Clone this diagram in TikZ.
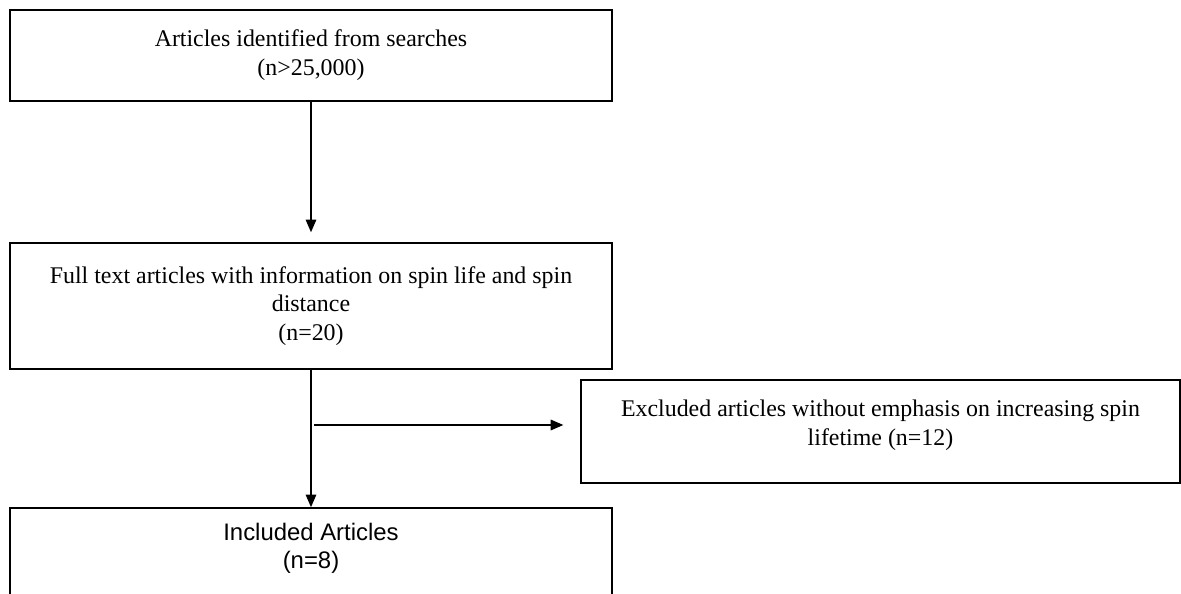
\documentclass[tikz,border=0pt]{standalone}
\usepackage{fontspec}
\setmainfont{Liberation Serif}
\setsansfont{Liberation Sans}
\usetikzlibrary{arrows.meta}

\begin{document}
\begin{tikzpicture}[x=0.02cm, y=-0.02cm, node distance=5.01cm,
    box/.style={draw, thick, align=center, inner sep=0pt, minimum width=12.04cm,
      font=\fontsize{13.6}{16.4}\selectfont},
    >={Triangle[length=7.2pt, width=6pt]}]
	  \clip (0,0) rectangle (1181,594);
	  \node (A) [box, minimum height=1.82cm] at (311,55.5) {Articles identified from searches\\(n>25,000)};
	  \node (B) [box, below of=A, minimum height=2.52cm] {Full text articles with information on spin life and spin\\distance\\(n=20)};
	  \node (C) [box, below of=B, node distance=5.08cm, minimum height=2.08cm, text depth=15.5pt,
	    font=\fontsize{13.6}{16}\selectfont\sffamily] {Included Articles\\(n=8)};
	  \node (X) [box, minimum width=11.98cm, minimum height=2.06cm, text depth=9.6pt] at (880.5,431.5)
	    {Excluded articles without emphasis on increasing spin\\lifetime (n=12)};
	  \coordinate (split) at (312,425);
	  \draw[->, thick, shorten >=0.2cm] (A) to (B);
	  \draw[->, thick] (B) to (C);
	  \draw[->, thick, shorten <=0.04cm, shorten >=0.34cm] (split) to (split -| X.west);
	\end{tikzpicture}
\end{document}
